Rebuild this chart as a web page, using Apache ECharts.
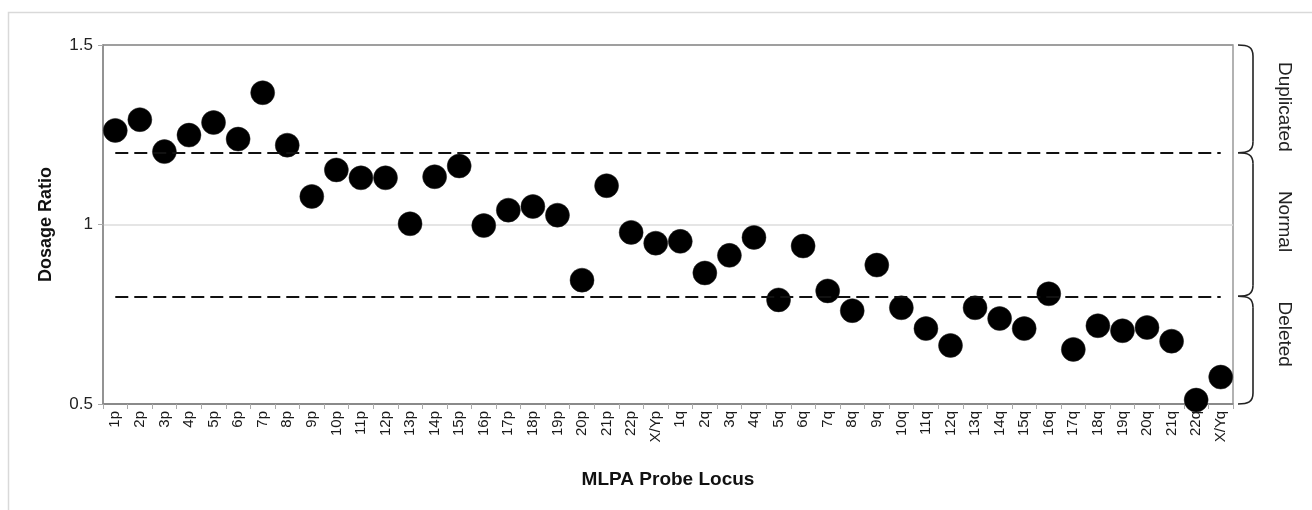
<!DOCTYPE html>
<html>
<head>
<meta charset="utf-8">
<script src="https://cdn.jsdelivr.net/npm/echarts@6/dist/echarts.min.js"></script>
<style>
html,body{margin:0;padding:0;background:#fff;}
#main{width:1312px;height:510px;}
</style>
</head>
<body>
<div id="main"></div>
<script>
var categories = ['1p','2p','3p','4p','5p','6p','7p','8p','9p','10p','11p','12p','13p','14p','15p','16p','17p','18p','19p','20p','21p','22p','X/Yp',
  '1q','2q','3q','4q','5q','6q','7q','8q','9q','10q','11q','12q','13q','14q','15q','16q','17q','18q','19q','20q','21q','22q','X/Yq'];
var dosageRatio = [1.262,1.292,1.203,1.249,1.284,1.238,1.367,1.221,1.078,1.152,1.130,1.130,1.002,1.133,1.163,0.997,1.040,1.050,1.026,0.845,1.108,0.978,
  0.948,0.953,0.865,0.914,0.964,0.790,0.940,0.815,0.760,0.887,0.768,0.710,0.663,0.768,0.738,0.710,0.807,0.652,0.718,0.704,0.713,0.675,0.511,0.575];
var thresholds = [1.2, 0.8];
var yTicks = [0.5, 1, 1.5];
var bracketRanges = [[1.5, 1.2], [1.2, 0.8], [0.8, 0.5]];
var bracketLabels = ['Duplicated', 'Normal', 'Deleted'];

// layout only (pixel shifts of the bracket labels)
var labelShiftPx = [8, -3, -16];

var FONT = '"Liberation Sans", Arial, sans-serif';
var chart = echarts.init(document.getElementById('main'));

var markData = thresholds.map(function (t) {
  return [{ coord: [categories[0], t] }, { coord: [categories[categories.length - 1], t] }];
});

chart.setOption({
  animation: false,
  backgroundColor: '#fff',
  grid: { left: 103, right: 79, top: 45, bottom: 106, show: true, borderColor: '#999', borderWidth: 1.5, backgroundColor: 'transparent' },
  xAxis: {
    type: 'category',
    data: categories,
    boundaryGap: true,
    name: 'MLPA Probe Locus',
    nameLocation: 'middle',
    nameGap: 66,
    nameTextStyle: { fontFamily: FONT, fontSize: 19, fontWeight: 'bold', color: '#111' },
    axisLine: { lineStyle: { color: '#888', width: 1.5 } },
    axisTick: { show: true, interval: 0, length: 5, lineStyle: { color: '#aaa' } },
    axisLabel: { interval: 0, rotate: 90, margin: 7, fontFamily: FONT, fontSize: 15, color: '#1a1a1a' },
    splitLine: { show: false }
  },
  yAxis: {
    type: 'value',
    min: yTicks[0],
    max: yTicks[yTicks.length - 1],
    interval: yTicks[1] - yTicks[0],
    name: 'Dosage Ratio',
    nameLocation: 'middle',
    nameGap: 48,
    nameTextStyle: { fontFamily: FONT, fontSize: 18, fontWeight: 'bold', color: '#111' },
    axisLine: { show: true, lineStyle: { color: '#888', width: 1.5 } },
    axisTick: { show: true, length: 5, lineStyle: { color: '#aaa' } },
    axisLabel: { margin: 10, fontFamily: FONT, fontSize: 17, color: '#222', formatter: function (v) { return String(v); } },
    splitLine: { show: true, lineStyle: { color: ['#888', '#ddd', '#999'], width: 1.5 } }
  },
  series: [
    {
      type: 'line',
      data: [],
      z: 1,
      markLine: {
        silent: true,
        symbol: ['none', 'none'],
        label: { show: false },
        lineStyle: { color: '#111', type: [13, 6], width: 2 },
        data: markData
      }
    },
    {
      type: 'scatter',
      z: 3,
      data: dosageRatio,
      symbol: 'circle',
      symbolSize: 24,
      itemStyle: { color: '#000', opacity: 1, borderColor: '#222', borderWidth: 0.5 }
    }
  ]
});

function drawDecor() {
  var x0c = chart.convertToPixel({ xAxisIndex: 0 }, 0);
  var x1c = chart.convertToPixel({ xAxisIndex: 0 }, 1);
  var half = (x1c - x0c) / 2;
  var right = chart.convertToPixel({ xAxisIndex: 0 }, categories.length - 1) + half;
  var bx0 = right + 5, bx1 = right + 20, r = 11;
  var st = { stroke: '#222', lineWidth: 1.6, fill: 'none' };
  var elements = [{
    type: 'rect', silent: true,
    shape: { x: 8.5, y: 12.5, width: 1400, height: 600 },
    style: { fill: 'none', stroke: '#d9d9d9', lineWidth: 1.5 }, z: -10
  }];
  bracketRanges.forEach(function (rg, i) {
    var y1 = chart.convertToPixel({ yAxisIndex: 0 }, rg[0]);
    var y2 = chart.convertToPixel({ yAxisIndex: 0 }, rg[1]);
    elements.push({
      type: 'bezierCurve', silent: true,
      shape: { x1: bx0, y1: y1, cpx1: bx0 + 10, cpy1: y1, cpx2: bx1, cpy2: y1 + 2, x2: bx1, y2: y1 + r },
      style: st
    });
    elements.push({
      type: 'line', silent: true,
      shape: { x1: bx1, y1: y1 + r, x2: bx1, y2: y2 - r },
      style: st
    });
    elements.push({
      type: 'bezierCurve', silent: true,
      shape: { x1: bx1, y1: y2 - r, cpx1: bx1, cpy1: y2 - 2, cpx2: bx0 + 10, cpy2: y2, x2: bx0, y2: y2 },
      style: st
    });
    var mid = (y1 + y2) / 2 + labelShiftPx[i];
    elements.push({
      type: 'text', silent: true,
      x: right + 51, y: mid,
      rotation: -Math.PI / 2,
      style: { text: bracketLabels[i], fontFamily: FONT, fontSize: 19, fill: '#222', align: 'center', verticalAlign: 'middle' }
    });
  });
  chart.setOption({ graphic: { elements: elements } });
}
drawDecor();
</script>
</body>
</html>
